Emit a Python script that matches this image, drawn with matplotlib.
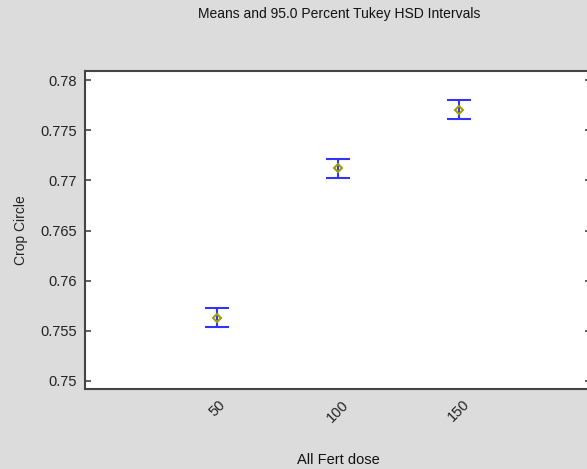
import matplotlib
matplotlib.use('Agg')
import matplotlib.pyplot as plt

# Dados: médias e intervalos Tukey HSD 95%
doses = ['50', '100', '150']
means = [0.7563, 0.77119, 0.77699]
lower = [0.75538, 0.77019, 0.77610]
upper = [0.75727, 0.77208, 0.77799]
y_ticks = [0.75, 0.755, 0.76, 0.765, 0.77, 0.775, 0.78]
y_tick_labels = ['0.75', '0.755', '0.76', '0.765', '0.77', '0.775', '0.78']

plt.rcParams['font.family'] = ['Liberation Sans', 'DejaVu Sans']

fig = plt.figure(figsize=(5.87, 4.69), dpi=100, facecolor='#dcdcdc')
ax = fig.add_axes([85 / 587, 1 - 389 / 469, 506 / 587, 318 / 469])
ax.set_facecolor('white')

x = list(range(1, len(doses) + 1))
err = [[m - l for m, l in zip(means, lower)], [u - m for m, u in zip(means, upper)]]
ax.errorbar(x, means, yerr=err, fmt='none', ecolor='#3333ff', elinewidth=1.5,
            capsize=8.5, capthick=1.5)
ax.plot(x, means, linestyle='none', marker='D', markersize=4.5, markerfacecolor='none',
        markeredgecolor='#a0a000', markeredgewidth=1.5)

ax.set_xlim(-0.09, 4.09)
ax.set_ylim(0.7492, 0.7809)
ax.set_xticks(x)
ax.set_xticklabels(doses, rotation=45, ha='center', fontsize=10.5, color='#222222')
ax.set_yticks(y_ticks)
ax.set_yticklabels(y_tick_labels, fontsize=10.5, color='#222222')
ax.tick_params(axis='y', direction='in', length=4.5, width=1.2, color='#444444',
               left=True, right=True, pad=6)
ax.tick_params(axis='x', length=0, pad=6)

for s in ax.spines.values():
    s.set_color('#444444')
    s.set_linewidth(1.5)

fig.text(339 / 587, 1 - 14 / 469, 'Means and 95.0 Percent Tukey HSD Intervals',
         ha='center', va='center', fontsize=10, color='#111111')
ax.set_ylabel('Crop Circle', fontsize=10, color='#222222', labelpad=9)
fig.text(338 / 587, 1 - 460 / 469, 'All Fert dose', ha='center', va='center',
         fontsize=10.5, color='#111111')

fig.savefig('out.png', dpi=100, facecolor=fig.get_facecolor())
